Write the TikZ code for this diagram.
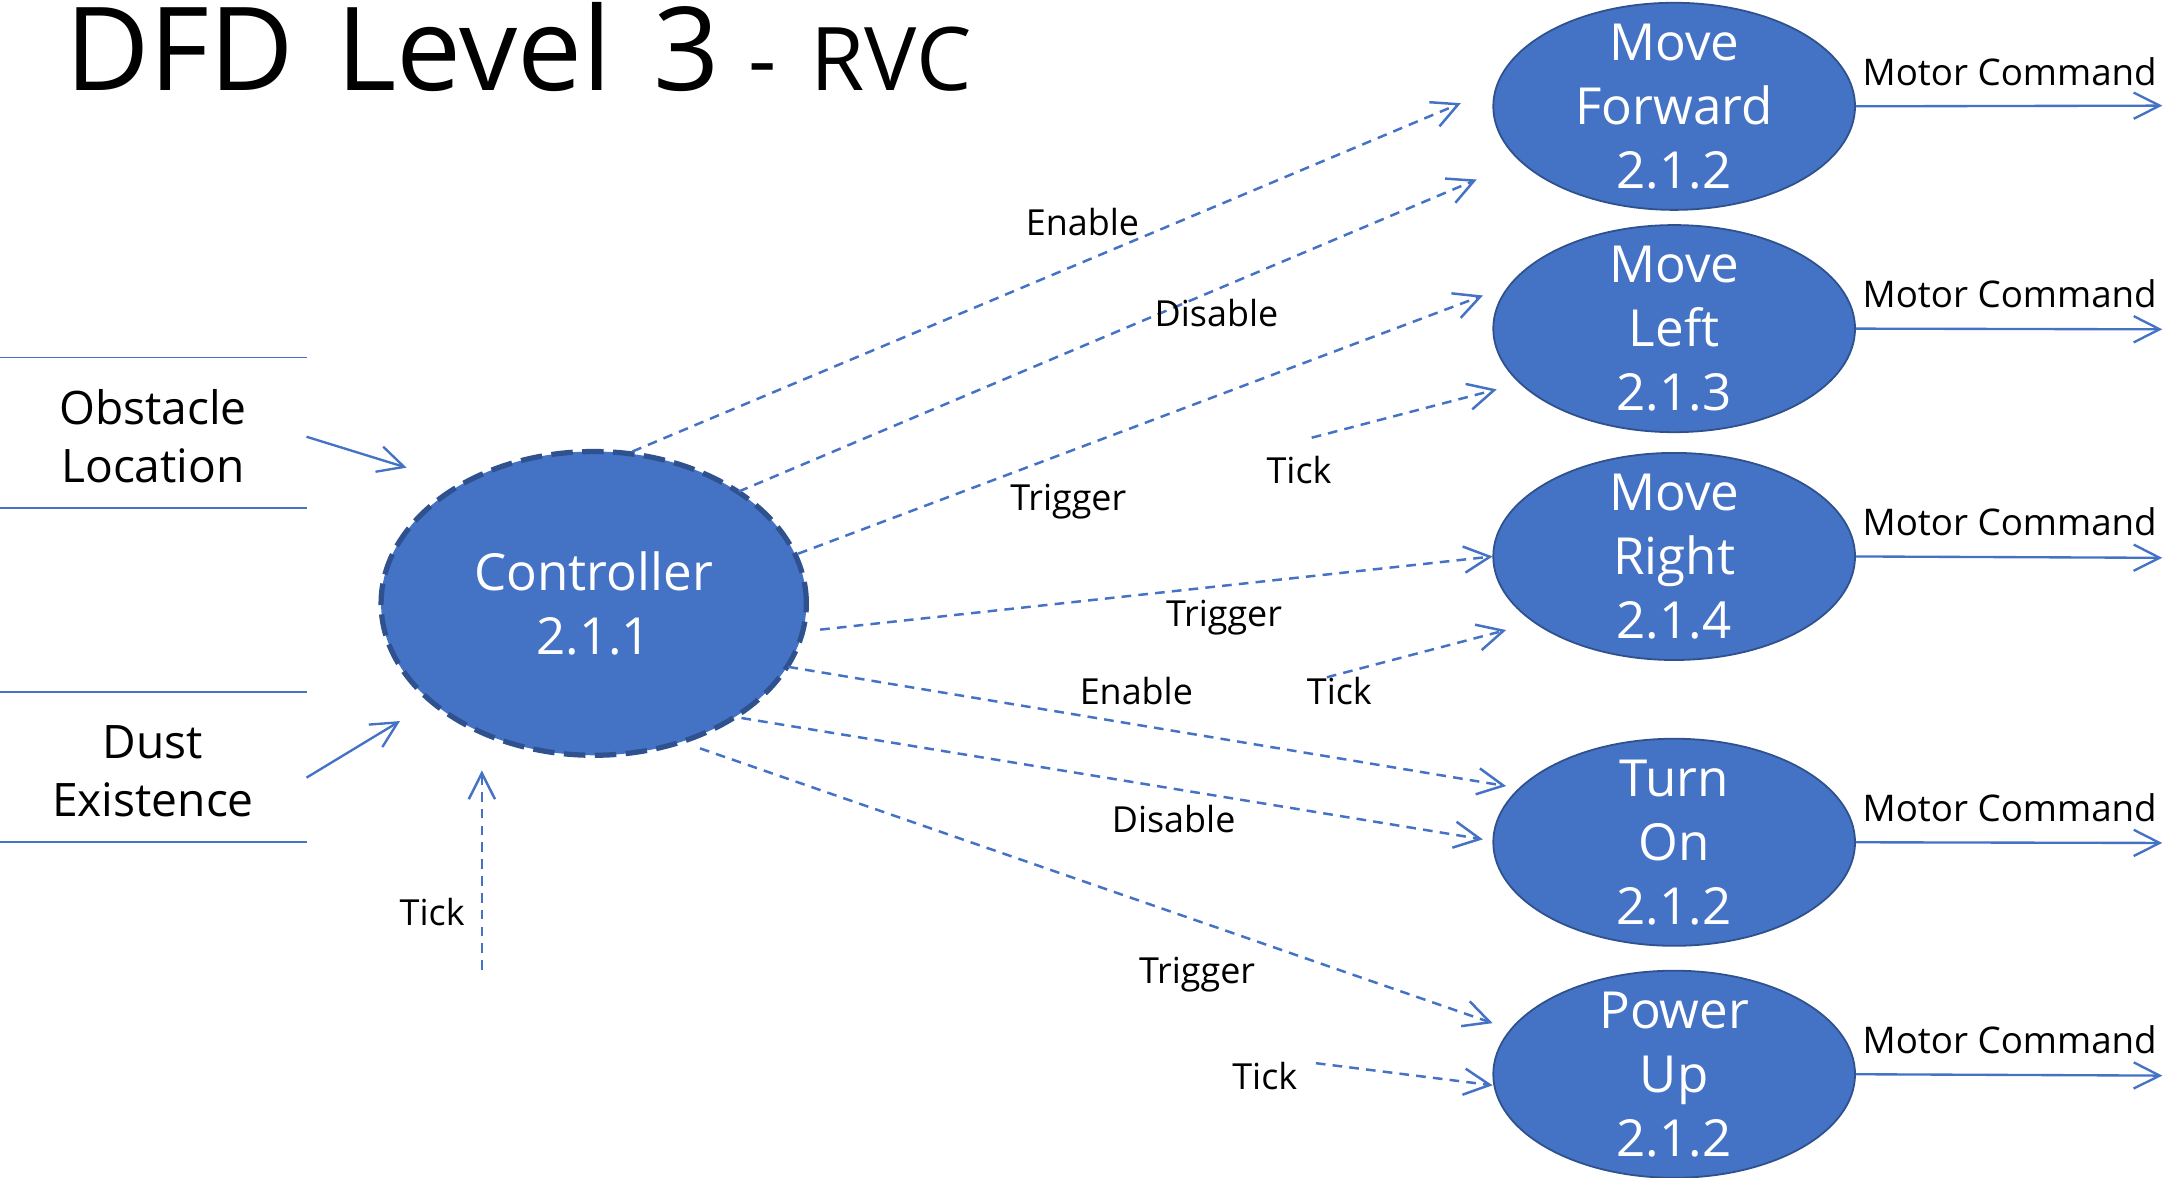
\documentclass[tikz,border=0pt]{standalone}
\usepackage{fontspec}
\setmainfont{Open Sans}
\usetikzlibrary{arrows.meta,shapes.geometric}
\definecolor{fillblue}{HTML}{4472C4}
\definecolor{edgeblue}{HTML}{2F528F}
\definecolor{lineblue}{HTML}{4472C4}
\begin{document}
\begin{tikzpicture}[x=0.5pt,y=-0.5pt,
  proc/.style={ellipse, draw=edgeblue, line width=0.65pt, fill=fillblue,
    minimum width=131pt, minimum height=75pt, inner xsep=0pt, inner ysep=-8pt, text=white,
    align=center, font=\fontsize{18.5pt}{23.15pt}\selectfont},
  ctrlproc/.style={proc, minimum width=154pt, minimum height=110pt,
    line width=1.9pt, dash pattern=on 7.8pt off 3.4pt},
  flow/.style={draw=lineblue, line width=0.9pt, dash pattern=on 3.5pt off 2.6pt,
    -{Straight Barb[length=9.4pt,width=9.5pt]}},
  solidflow/.style={draw=lineblue, line width=0.85pt,
    -{Straight Barb[length=9.4pt,width=9.5pt]}},
  lbl/.style={inner sep=0pt, anchor=base, font=\fontsize{13pt}{15pt}\selectfont},
  mlbl/.style={lbl, font=\fontsize{13.3pt}{15pt}\selectfont},
  storetext/.style={inner sep=0pt, align=center, font=\fontsize{16.7pt}{21.1pt}\selectfont},
  storeline/.style={draw=lineblue, line width=0.6pt},
]
\useasboundingbox (0,0) rectangle (1568,853);

% title
\node[anchor=base west, inner sep=0pt, font=\fontsize{42pt}{50pt}\selectfont] (title) at (47,65.2) {DFD\hspace{0.1em} Level\hspace{0.1em} 3};
\node[anchor=base west, inner sep=0pt, font=\fontsize{31.8pt}{38pt}\selectfont] (sub) at (541.5,65.2) {-\hspace{0.13em} RVC};

% processes
\node[ctrlproc] (ctrl) at (430,437) {Controller\\2.1.1};
\node[proc] (mf) at (1212.5,77) {Move\\Forward\\2.1.2};
\node[proc] (ml) at (1212.5,238) {Move\\Left\\2.1.3};
\node[proc] (mr) at (1212.5,403) {Move\\Right\\2.1.4};
\node[proc] (ton) at (1212.5,610) {Turn\\On\\2.1.2};
\node[proc] (pu) at (1212.5,778) {Power\\Up\\2.1.2};

% data stores
\draw[storeline] (0,259) -- (222,259);
\draw[storeline] (0,368) -- (222,368);
\draw[storeline] (0,501) -- (222,501);
\draw[storeline] (0,610) -- (222,610);
\node[storetext] (obs) at (110.8,316) {Obstacle\\Location};
\node[storetext] (dust) at (110.8,558.6) {Dust\\Existence};

% input arrows
\coordinate (obsout) at (222,316.3);
\coordinate (obsin) at (294.5,338.7);
\coordinate (dustout) at (222,563.2);
\coordinate (dustin) at (289.7,522.2);
\draw[solidflow] (obsout) -- (obsin);
\draw[solidflow] (dustout) -- (dustin);

% control flows
\coordinate (s1) at (458,327);     \coordinate (t1) at (1058,74.7);
\coordinate (s2) at (535,356);     \coordinate (t2) at (1069.5,130);
\coordinate (s3) at (578,401);     \coordinate (t3) at (1074,214);
\coordinate (s4) at (950,317);     \coordinate (t4) at (1084,282);
\coordinate (s5) at (594,456);     \coordinate (t5) at (1081,403);
\coordinate (s6) at (961,490.5);   \coordinate (t6) at (1090.8,456.3);
\coordinate (s7) at (571,483);     \coordinate (t7) at (1090.8,569.3);
\coordinate (s8) at (537,520);     \coordinate (t8) at (1073.9,607.9);
\coordinate (s9) at (507,542);     \coordinate (t9) at (1081,741);
\coordinate (s10) at (953,770);    \coordinate (t10) at (1081,786);
\coordinate (s11) at (349,702.5);  \coordinate (t11) at (349,558);
\foreach \i in {1,...,11} {\draw[flow] (s\i) -- (t\i);}

\node[lbl] (l1) at (784,170.7) {Enable};
\node[lbl] (l2) at (881,236.6) {Disable};
\node[lbl] (l3) at (773.7,369.4) {Trigger};
\node[lbl] (l4) at (940.8,350.5) {Tick};
\node[lbl] (l5) at (886.5,453.9) {Trigger};
\node[lbl] (l6) at (970,509.9) {Tick};
\node[lbl] (l7) at (823,510) {Enable};
\node[lbl] (l8) at (850,603) {Disable};
\node[lbl] (l9) at (867,712.2) {Trigger};
\node[lbl] (l10) at (916,789.4) {Tick};
\node[lbl] (l11) at (313,670) {Tick};

% motor command outputs
\coordinate (o1) at (1566,76.5);
\coordinate (o2) at (1566,238.5);
\coordinate (o3) at (1566,404);
\coordinate (o4) at (1566,610.5);
\coordinate (o5) at (1566,779);
\draw[solidflow] (mf.east) -- (o1);
\draw[solidflow] (ml.east) -- (o2);
\draw[solidflow] (mr.east) -- (o3);
\draw[solidflow] (ton.east) -- (o4);
\draw[solidflow] (pu.east) -- (o5);
\node[mlbl] (m1) at (1455.5,62) {Motor Command};
\node[mlbl] (m2) at (1455.5,223) {Motor Command};
\node[mlbl] (m3) at (1455.5,388) {Motor Command};
\node[mlbl] (m4) at (1455.5,595) {Motor Command};
\node[mlbl] (m5) at (1455.5,763) {Motor Command};
\end{tikzpicture}
\end{document}
